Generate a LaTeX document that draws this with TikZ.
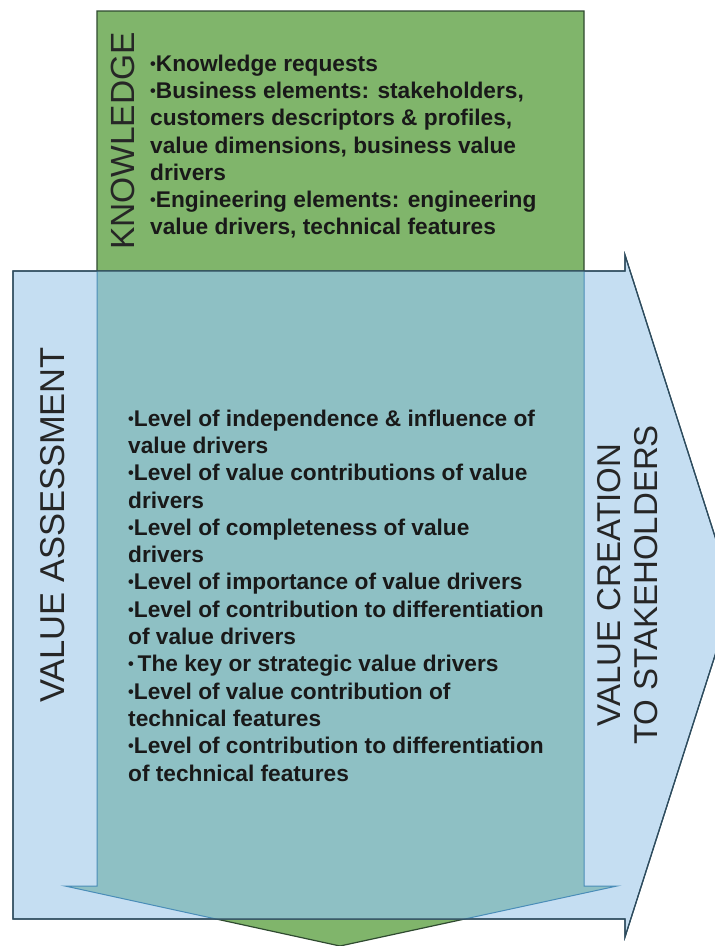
\documentclass[tikz,border=0pt]{standalone}
\usepackage{fontspec}
\usepackage{graphicx}
\setmainfont{Liberation Sans}
\definecolor{kgreen}{HTML}{80B56B}
\definecolor{kblue}{HTML}{C5DEF2}
\definecolor{kteal}{HTML}{8EC0C4}
\definecolor{kgreenline}{HTML}{2F4A30}
\definecolor{kblueline}{HTML}{2E4C5E}
\definecolor{kinner}{HTML}{4A8DB8}
\newcommand{\kbul}{\raisebox{0.09em}{\scalebox{0.72}{•}}}
\begin{document}
\begin{tikzpicture}[x=1pt,y=-1pt,
  bodytext/.style={font=\fontsize{22.7}{27.3}\selectfont\bfseries, align=left, inner sep=0pt, anchor=north west, text=black!90},
  labeltext/.style={font=\fontsize{33}{37}\selectfont, align=center, inner sep=0pt, rotate=90, text=black!85}]
\useasboundingbox (0,0) rectangle (715,946);
\fill[white] (0,0) rectangle (715,946);
\def\greenpath{(97,11) -- (584,11) -- (584,886) -- (617,886) -- (340,946) -- (65,886) -- (97,886) -- cycle}
\def\bluepath{(13,271) -- (625,271) -- (625,255) -- (734,596) -- (625,937) -- (625,919) -- (13,919) -- cycle}
% green down arrow
\filldraw[fill=kgreen, draw=kgreenline, line width=1.2pt] \greenpath;
% blue right arrow
\filldraw[fill=kblue, draw=kblueline, line width=1.2pt] \bluepath;
% overlap
\begin{scope}
  \clip \bluepath;
  \fill[kteal] \greenpath;
  \draw[kinner, line width=1pt] \greenpath;
\end{scope}
\draw[kblueline, line width=1.2pt] \bluepath;
% texts
\node[bodytext] (know) at (150,54.5) {\kbul Knowledge requests\\
\kbul Business elements: stakeholders,\\
customers descriptors \& profiles,\\
value dimensions, business value\\
drivers\\
\kbul Engineering elements: engineering\\
value drivers, technical features};
\node[labeltext, font=\fontsize{33.5}{37}\selectfont] (knowlabel) at (122.5,141) {KNOWLEDGE};
\node[bodytext] (assess) at (128,409.5) {\kbul Level of independence \& influence of\\
value drivers\\
\kbul Level of value contributions of value\\
drivers\\
\kbul Level of completeness of value\\
drivers\\
\kbul Level of importance of value drivers\\
\kbul Level of contribution to differentiation\\
of value drivers\\
\kbul\,The key or strategic value drivers\\
\kbul Level of value contribution of\\
technical features\\
\kbul Level of contribution to differentiation\\
of technical features};
\node[labeltext, font=\fontsize{34.5}{37}\selectfont] (valassess) at (53,525) {VALUE ASSESSMENT};
\node[labeltext] (valcreate) at (628,585) {VALUE CREATION\\TO STAKEHOLDERS};
\end{tikzpicture}
\end{document}
